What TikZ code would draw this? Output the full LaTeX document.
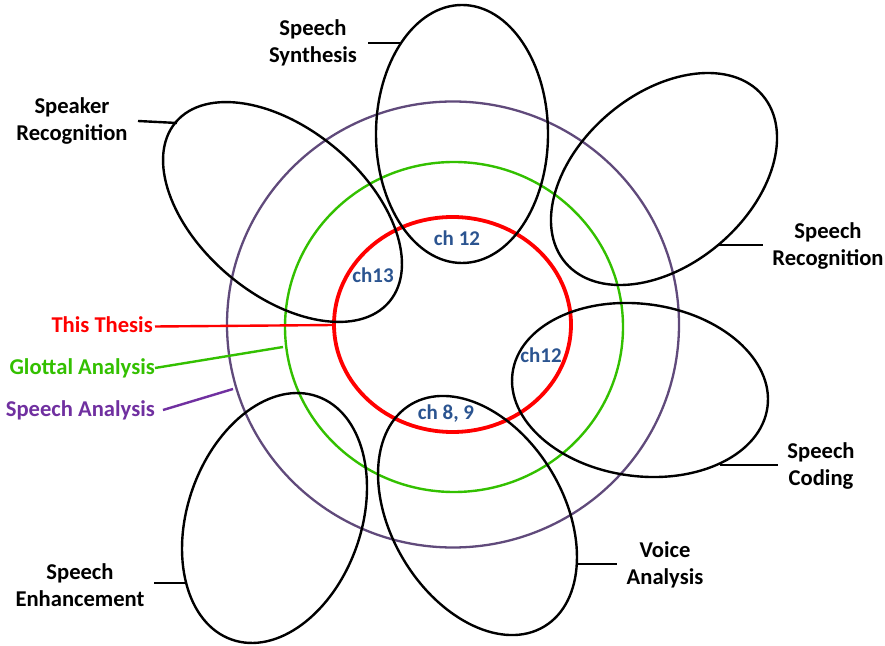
\documentclass[tikz,border=0pt]{standalone}
\usepackage{fontspec}
\setmainfont{Carlito}
\usetikzlibrary{shapes.geometric}
\definecolor{thesisred}{RGB}{255,0,0}
\definecolor{glotgreen}{RGB}{51,192,0}
\definecolor{circpurple}{RGB}{96,74,123}
\definecolor{labpurple}{RGB}{112,48,160}
\definecolor{chblue}{RGB}{43,84,144}
\begin{document}
\begin{tikzpicture}[x=1pt,y=1pt,
  field/.style={draw=black, line width=2.4pt, ellipse, inner sep=0pt},
  ring/.style={ellipse, inner sep=0pt},
  lab/.style={font=\fontsize{22.6}{27}\selectfont\bfseries, align=center, inner sep=0pt},
  chlab/.style={font=\fontsize{21}{25}\selectfont\bfseries, text=chblue, inner sep=0pt},
  lead/.style={line width=2.4pt}]
\useasboundingbox (0,0) rectangle (885,645);

% rings
\node[ring, draw=circpurple, line width=2.3pt, minimum width=452pt, minimum height=446pt] (sa) at (453,320.5) {};
\node[ring, draw=glotgreen, line width=2.4pt, minimum width=338pt, minimum height=330pt] (ga) at (454,318) {};
\node[ring, draw=thesisred, line width=3.8pt, minimum width=237pt, minimum height=215pt] (tt) at (452.5,320.5) {};

% application fields
\node[field, minimum width=172pt, minimum height=258pt] (synth) at (462,511) {};
\node[field, rotate=-40, minimum width=279pt, minimum height=166pt] (spkr) at (282.5,433) {};
\node[field, rotate=40.3, minimum width=258.6pt, minimum height=170.8pt] (srec) at (664,466) {};
\node[field, rotate=-7.6, minimum width=257.2pt, minimum height=172.2pt] (coding) at (640,255) {};
\node[field, rotate=-59, minimum width=259pt, minimum height=172.2pt] (voice) at (477.5,129.5) {};
\node[field, rotate=70.6, minimum width=257.8pt, minimum height=173.8pt] (enh) at (274.5,127) {};

% labels
\node[lab] (synthlab) at (313,602) {Speech\\Synthesis};
\node[lab] (spkrlab) at (72,524) {Speaker\\Recognition};
\node[lab] (sreclab) at (828,399) {Speech\\Recognition};
\node[lab] (codinglab) at (821,179) {Speech\\Coding};
\node[lab] (voicelab) at (665,80) {Voice\\Analysis};
\node[lab] (enhlab) at (80,60) {Speech\\Enhancement};
\node[lab, anchor=east, text=thesisred] (ttlab) at (153,320) {This Thesis};
\node[lab, anchor=east, text=glotgreen] (galab) at (155,277) {Glottal Analysis};
\node[lab, anchor=east, text=labpurple] (salab) at (155,235) {Speech Analysis};

% chapter labels
\node[chlab] (c1) at (457,407) {ch 12};
\node[chlab] (c2) at (373,370) {ch13};
\node[chlab] (c3) at (541,290) {ch12};
\node[chlab] (c4) at (446,231) {ch 8, 9};

% leader end points
\coordinate (synthA) at (368,602); \coordinate (synthB) at (400,602);
\coordinate (spkrA) at (138,524); \coordinate (spkrB) at (177,522);
\coordinate (srecA) at (718,400); \coordinate (srecB) at (763,400);
\coordinate (codingA) at (720,180); \coordinate (codingB) at (778,180);
\coordinate (voiceA) at (577,81); \coordinate (voiceB) at (617,81);
\coordinate (enhA) at (154,62); \coordinate (enhB) at (185,62);
\coordinate (ttA) at (155,318.5); \coordinate (ttB) at (334,320);
\coordinate (gaA) at (155,277); \coordinate (gaB) at (283,298);
\coordinate (saA) at (163,235); \coordinate (saB) at (233,256);

\draw[lead] (synthA) -- (synthB);
\draw[lead] (spkrA) -- (spkrB);
\draw[lead] (srecA) -- (srecB);
\draw[lead] (codingA) -- (codingB);
\draw[lead] (voiceA) -- (voiceB);
\draw[lead] (enhA) -- (enhB);
\draw[lead, thesisred] (ttA) -- (ttB);
\draw[lead, glotgreen] (gaA) -- (gaB);
\draw[lead, labpurple] (saA) -- (saB);
\end{tikzpicture}
\end{document}
